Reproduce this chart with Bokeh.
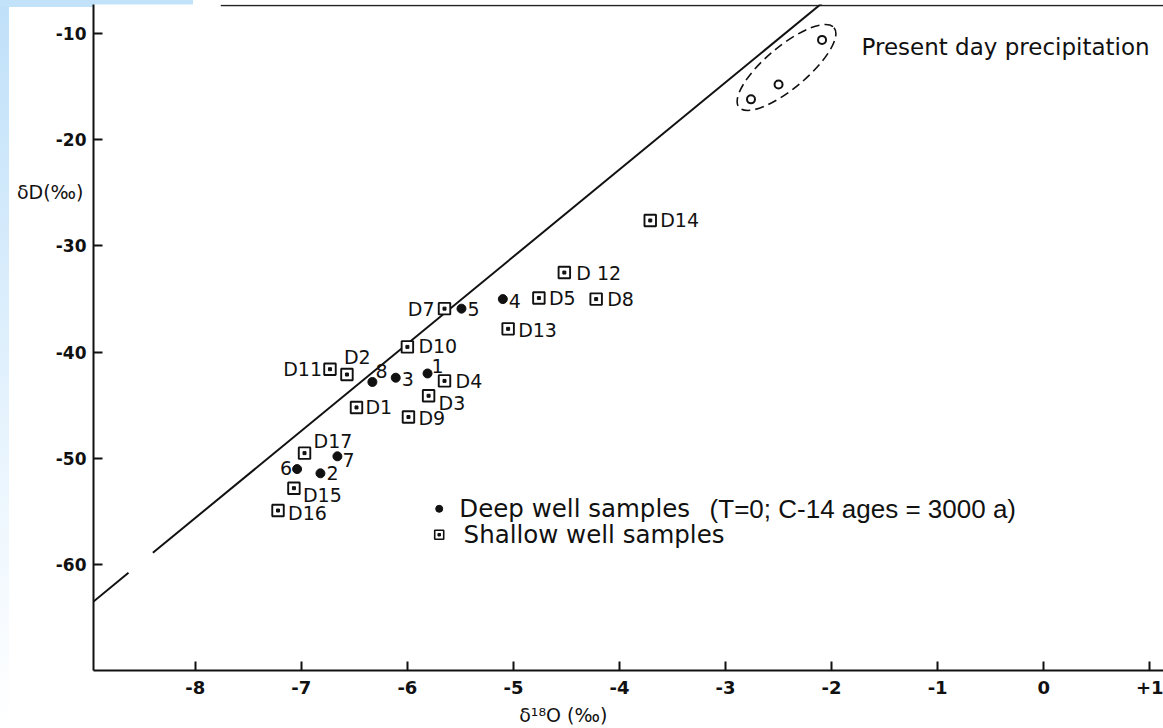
from bokeh.plotting import figure
from bokeh.models import Range1d, FixedTicker, LinearAxis
from bokeh.core.properties import value
from bokeh.embed import file_html
from bokeh.resources import INLINE

# Deep well samples (filled dots)
deep_ids = ["1", "2", "3", "4", "5", "6", "7", "8"]
deep_d18o = [-5.81, -6.82, -6.11, -5.10, -5.49, -7.04, -6.66, -6.33]
deep_dD = [-42.0, -51.4, -42.4, -35.0, -35.9, -51.0, -49.8, -42.8]

# Shallow well samples (boxed dots)
shallow_ids = ["D1", "D2", "D3", "D4", "D5", "D7", "D8", "D9", "D10",
               "D11", "D 12", "D13", "D14", "D15", "D16", "D17"]
shallow_d18o = [-6.48, -6.57, -5.80, -5.65, -4.76, -5.65, -4.22, -5.99, -6.00,
                -6.73, -4.52, -5.05, -3.71, -7.07, -7.22, -6.97]
shallow_dD = [-45.2, -42.1, -44.1, -42.7, -34.9, -35.9, -35.0, -46.1, -39.5,
              -41.6, -32.5, -37.8, -27.6, -52.8, -54.9, -49.5]

# Present day precipitation
precip_d18o = [-2.09, -2.50, -2.76]
precip_dD = [-10.6, -14.8, -16.2]

# Meteoric water line dD = slope * d18O + intercept, drawn in two pieces
mwl_slope = 8.2
mwl_intercept = 10.0
mwl_pieces = [(-8.96, -8.63), (-8.40, -1.5)]

x_ticks = [-8, -7, -6, -5, -4, -3, -2, -1, 0, 1]
x_tick_labels = ["-8", "-7", "-6", "-5", "-4", "-3", "-2", "-1", "0", "+1"]
y_ticks = [-10, -20, -30, -40, -50, -60]
y_tick_labels = ["-10", "-20", "-30", "-40", "-50", "-60"]

x_title = "δ¹⁸O (‰)"
y_title = "δD(‰)"
x_title_at = -4.53
y_title_at = -24.9

# label placement next to each marker (screen pixels)
deep_dx = [4, 6, 6, 6, 6, -5, 5, 3]
deep_dy = [-7, 0, 1, 2, 0, -1, 4, -11]
deep_align = ["left", "left", "left", "left", "left", "right", "left", "left"]
shallow_dx = [9, -3, 10, 11, 10, -10, 11, 10, 11, -8, 12, 10, 10, 9, 10, 9]
shallow_dy = [0, -18, 7, 0, 0, 0, 0, 1, -1, 0, 0, 1, 0, 7, 2, -12]
shallow_align = ["left", "left", "left", "left", "left", "right", "left", "left",
                 "left", "right", "left", "left", "left", "left", "left", "left"]

FONT = value("DejaVu Sans")
INK = "#111111"

p = figure(width=1163, height=728, output_backend="svg", toolbar_location=None,
           x_range=Range1d(-8.96, 1.13), y_range=Range1d(-69.96, -7.27),
           min_border_left=93, min_border_right=0, min_border_top=4,
           min_border_bottom=57)
p.border_fill_color = None
p.background_fill_color = "white"
p.outline_line_color = None
p.grid.visible = False
p.styles = {
    "background-color": "white",
    "background-image": "linear-gradient(#c2e2fa, #c2e2fa), "
                        "linear-gradient(to bottom, #bfe0f9, #eef7fe 70%, #ffffff)",
    "background-size": "193px 7px, 9px 100%",
    "background-repeat": "no-repeat",
}

for ax in (p.xaxis[0], p.yaxis[0]):
    ax.axis_line_color = INK
    ax.axis_line_width = 2
    ax.major_tick_line_color = INK
    ax.major_tick_line_width = 2
    ax.major_tick_out = 0
    ax.minor_tick_line_color = None
    ax.major_label_text_font = "DejaVu Sans"
    ax.major_label_text_font_style = "bold"
    ax.major_label_text_color = INK

p.xaxis.ticker = FixedTicker(ticks=x_ticks)
p.xaxis.major_label_overrides = dict(zip(x_ticks, x_tick_labels))
p.xaxis.major_tick_in = 9
p.xaxis.major_label_standoff = 10
p.xaxis.major_label_text_font_size = "18px"

p.yaxis.ticker = FixedTicker(ticks=y_ticks)
p.yaxis.major_label_overrides = dict(zip(y_ticks, y_tick_labels))
p.yaxis.major_tick_in = 9
p.yaxis.major_label_standoff = 7
p.yaxis.major_label_text_font_size = "17px"


def title_axis(pos, text, standoff):
    """An axis carrying only its title, as a single label at a chosen position."""
    return LinearAxis(ticker=FixedTicker(ticks=[pos]), major_label_overrides={pos: text},
                      axis_line_color=None, major_tick_line_color=None,
                      minor_tick_line_color=None, major_label_standoff=standoff,
                      major_label_text_font="DejaVu Sans",
                      major_label_text_font_size="19px", major_label_text_color=INK)


p.add_layout(title_axis(x_title_at, x_title, 1), "below")
p.add_layout(title_axis(y_title_at, y_title, -37), "left")

# frame line along the top
top_y = -7.37
p.segment(x0=[-7.76], y0=[top_y], x1=[1.13], y1=[top_y], line_color="#222222",
          line_width=1.6)

# meteoric water line
for x0, x1 in mwl_pieces:
    p.line([x0, x1], [mwl_slope * x0 + mwl_intercept, mwl_slope * x1 + mwl_intercept],
           line_color=INK, line_width=2)

# precipitation group
precip_center = (-2.425, -13.2)
p.ellipse(x=[precip_center[0]], y=[precip_center[1]], width=124, height=42,
          width_units="screen", height_units="screen", angle=40, angle_units="deg",
          fill_color=None, line_color=INK, line_width=1.6, line_dash="9 5")
p.scatter(precip_d18o, precip_dD, marker="circle", size=8, fill_color="white",
          line_color=INK, line_width=2)
p.text(x=[-1.718], y=[-11.3], text=["Present day precipitation"], text_font=FONT,
       text_font_size="23px", text_color=INK, text_baseline="middle",
       text_align="left")

# shallow wells: box with a centre dot
p.scatter(shallow_d18o, shallow_dD, marker="square", size=11.5, fill_color="white",
          line_color=INK, line_width=1.9)
p.scatter(shallow_d18o, shallow_dD, marker="square", size=3, fill_color=INK,
          line_color=INK)
p.text(x=shallow_d18o, y=shallow_dD, text=shallow_ids, x_offset=shallow_dx,
       y_offset=shallow_dy, text_align=shallow_align, text_baseline="middle",
       text_font=FONT, text_font_size="19px", text_color=INK)

# deep wells: filled dots
p.scatter(deep_d18o, deep_dD, marker="circle", size=9, fill_color=INK, line_color=INK)
p.text(x=deep_d18o, y=deep_dD, text=deep_ids, x_offset=deep_dx, y_offset=deep_dy,
       text_align=deep_align, text_baseline="middle", text_font=FONT,
       text_font_size="19px", text_color=INK)

# key
key_x = -5.70
key_rows = [-54.74, -57.18]
p.scatter([key_x], [key_rows[0]], marker="circle", size=7, fill_color=INK, line_color=INK)
p.scatter([key_x], [key_rows[1]], marker="square", size=9, fill_color="white",
          line_color=INK, line_width=1.6)
p.scatter([key_x], [key_rows[1]], marker="square", size=2.5, fill_color=INK,
          line_color=INK)
p.text(x=[-5.51, -5.47], y=key_rows, text=["Deep well samples", "Shallow well samples"],
       text_font=FONT, text_font_size="24.5px", text_color=INK, text_baseline="middle")
p.text(x=[-3.15], y=[key_rows[0]], text=["(T=0; C-14 ages = 3000 a)"],
       text_font=value("Liberation Sans"), text_font_size="26px", text_color=INK,
       text_baseline="middle")

open("out.html", "w").write(file_html(p, INLINE))
